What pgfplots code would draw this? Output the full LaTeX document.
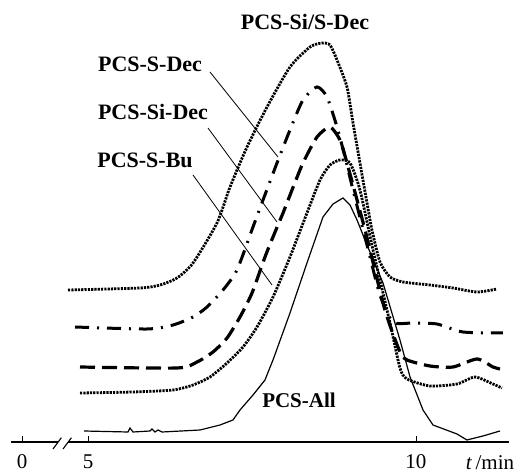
\documentclass[border=0pt]{standalone}
\usepackage{pgfplots}
\pgfplotsset{compat=1.18}
\usepackage{fontspec}
\setmainfont{Liberation Serif}

% GPC traces, vertically offset; x in minutes, y in arbitrary offset units
\tikzset{
  beaded/.style={black, line width=2.8bp, dash pattern=on 2.2bp off 1.1bp},
}
\begin{document}
\begin{tikzpicture}
\path[use as bounding box] (-11bp,-32bp) rectangle (510bp,442bp);
\begin{axis}[
  scale only axis, width=498bp, height=442bp,
  xmin=3.826, xmax=11.418, ymin=0, ymax=442,
  axis x line*=bottom, hide y axis,
  x axis line style={line width=1.3bp},
  xtick={3.994,5,10}, xticklabels={0,5,10},
  tick align=inside, major tick length=6bp,
  every tick/.style={black, line width=0.8bp},
  xticklabel style={anchor=base, yshift=-27bp, inner sep=0pt,
    font=\fontsize{21bp}{25bp}\selectfont},
  /pgf/number format/assume math mode=true,
  clip=false,
]
% PCS-Si/S-Dec
\addplot[beaded, smooth, tension=0.4] coordinates {
(4.695,152) (5.793,154) (6.098,157) (6.357,164) (6.601,179) (6.966,219)
(7.165,255) (7.424,295) (7.729,335) (8.079,375) (8.384,395) (8.567,399)
(8.689,397) (8.796,382) (8.948,355) (9.040,319) (9.146,279) (9.253,239)
(9.329,212) (9.451,180) (9.604,165) (9.802,160) (10.213,157) (10.564,154)
(10.930,150) (11.235,153)};
% PCS-S-Dec
\addplot[black, line width=3bp, dash pattern=on 14bp off 8bp on 2bp off 8bp, smooth, tension=0.4] coordinates {
(4.802,115) (5.899,113) (6.296,117) (6.601,125) (6.814,135) (7.058,152)
(7.271,172) (7.515,215) (7.668,242) (7.881,279) (8.079,312) (8.277,342)
(8.491,355) (8.643,345) (8.796,315) (8.918,285) (9.040,252) (9.253,197)
(9.451,147) (9.649,120) (9.954,119) (10.320,118) (10.716,110) (11.326,109)};
% PCS-Si-Dec
\addplot[black, line width=3.2bp, dash pattern=on 15bp off 7bp, smooth, tension=0.4] coordinates {
(4.878,75) (6.357,74) (6.662,80) (6.905,90) (7.119,104) (7.317,125)
(7.500,149) (7.698,185) (7.820,205) (7.973,229) (8.110,252) (8.277,279)
(8.491,305) (8.689,315) (8.841,302) (8.948,279) (9.223,212) (9.527,132)
(9.756,90) (9.863,82) (10.213,76) (10.564,75) (10.930,83) (11.174,75)
(11.280,73)};
% PCS-S-Bu
\addplot[beaded, smooth, tension=0.4] coordinates {
(4.878,49) (5.686,50) (6.296,52) (6.601,57) (6.860,65) (7.119,79)
(7.363,95) (7.576,115) (7.820,145) (8.079,185) (8.338,229) (8.537,262)
(8.689,277) (8.841,282) (8.994,279) (9.146,252) (9.345,192) (9.604,119)
(9.756,74) (9.863,63) (10.213,56) (10.625,58) (10.899,65) (11.174,58)
(11.311,54)};
% PCS-All
\addplot[black, line width=1.2bp] coordinates {
(4.939,11) (5.610,10) (5.640,14) (5.686,10) (5.945,11) (5.976,13) (6.021,10)
(6.067,12) (6.128,10) (6.707,12) (7.012,17) (7.210,22) (7.317,32) (7.515,47)
(7.698,62) (7.820,82) (8.079,129) (8.338,179) (8.582,225) (8.735,238)
(8.887,244) (8.994,237) (9.101,222) (9.253,197) (9.497,159) (9.756,102)
(9.909,65) (10.107,32) (10.259,17) (10.625,8) (10.777,2) (11.021,6)
(11.280,11)};
% axis break
\draw[white, line width=3bp] (axis cs:4.543,0) -- (axis cs:4.695,0);
\draw[black, line width=1.1bp] (axis cs:4.466,-7) -- (axis cs:4.594,4.3);
\draw[black, line width=1.1bp] (axis cs:4.619,-7) -- (axis cs:4.747,4.3);
\end{axis}
% labels and leader lines
\begin{scope}[font=\fontsize{22bp}{26bp}\selectfont\bfseries]
\node[anchor=base, inner sep=0pt] at (294bp,412bp) {PCS-Si/S-Dec};
\node[anchor=base, inner sep=0pt] at (139bp,370bp) {PCS-S-Dec};
\node[anchor=base, inner sep=0pt] at (142bp,322bp) {PCS-Si-Dec};
\node[anchor=base, inner sep=0pt] at (134bp,274bp) {PCS-S-Bu};
\node[anchor=base, inner sep=0pt, font=\fontsize{21bp}{25bp}\selectfont\bfseries] at (288bp,35bp) {PCS-All};
\end{scope}
\draw[black, line width=0.8bp] (199bp,370bp) -- (267bp,285bp);
\draw[black, line width=0.8bp] (197bp,314bp) -- (266bp,220bp);
\draw[black, line width=0.8bp] (182bp,267bp) -- (261bp,157bp);
\node[anchor=base, inner sep=0pt, font=\fontsize{21bp}{25bp}\selectfont] at (479bp,-27bp) {\textit{t}\,/min};
\end{tikzpicture}
\end{document}
